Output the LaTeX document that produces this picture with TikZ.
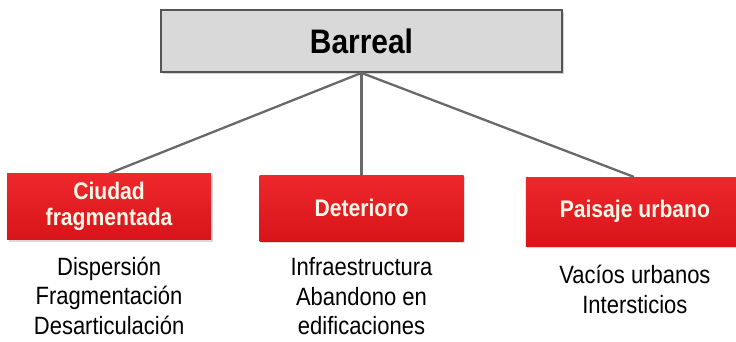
\documentclass[tikz,border=0pt]{standalone}
\usepackage{fontspec}
\setmainfont{Liberation Sans}[FakeStretch=0.88]
\usetikzlibrary{positioning,shadows}
\definecolor{rootgrey}{RGB}{217,217,217}
\definecolor{rootline}{RGB}{85,85,85}
\definecolor{redtop}{RGB}{238,40,44}
\definecolor{redbot}{RGB}{216,20,26}
\definecolor{cream}{RGB}{255,248,232}
\definecolor{linegrey}{RGB}{105,105,105}

\begin{document}
\begin{tikzpicture}[x=1pt, y=1pt,
    node distance=20pt,
    root/.style={draw=rootline, line width=1.8pt, fill=rootgrey,
        minimum width=401pt, minimum height=62pt,
        font=\fontsize{34}{36}\selectfont\bfseries,
        drop shadow={opacity=0.35, shadow xshift=1.5pt, shadow yshift=-2pt}},
    cat/.style={top color=redtop, bottom color=redbot, text=cream,
        minimum width=204pt, minimum height=66pt, align=center,
        font=\fontsize{24}{26}\selectfont\bfseries,
        drop shadow={opacity=0.3, shadow xshift=1.5pt, shadow yshift=-2pt}},
    items/.style={align=center, inner sep=0pt,
        font=\fontsize{25}{29.5}\selectfont},
    conn/.style={draw=linegrey, line width=2.3pt}]
    \useasboundingbox (0,0) rectangle (736,-342);
    \node[root] (B) at (361.5,-41) {Barreal};
    \node[cat] (D) [below=102pt of B] {Deterioro};
    \node[cat] (C) [left=48pt of D, yshift=1.5pt] {Ciudad\\fragmentada};
    \node[cat, minimum width=218pt, minimum height=69pt] (P) [right=62pt of D, yshift=-3.5pt] {Paisaje urbano};
    \node[items] (Cl) [below=17pt of C] {Dispersión\\Fragmentación\\Desarticulación};
    \node[items] (Dl) [below=16pt of D] {Infraestructura\\Abandono en\\edificaciones};
    \node[items] (Pl) [below=19pt of P] {Vacíos urbanos\\Intersticios};
    \path[conn] (B.south) edge (C.north)
        (B.south) edge (D.north)
        (B.south) edge ([xshift=-1pt]P.north);
\end{tikzpicture}
\end{document}
